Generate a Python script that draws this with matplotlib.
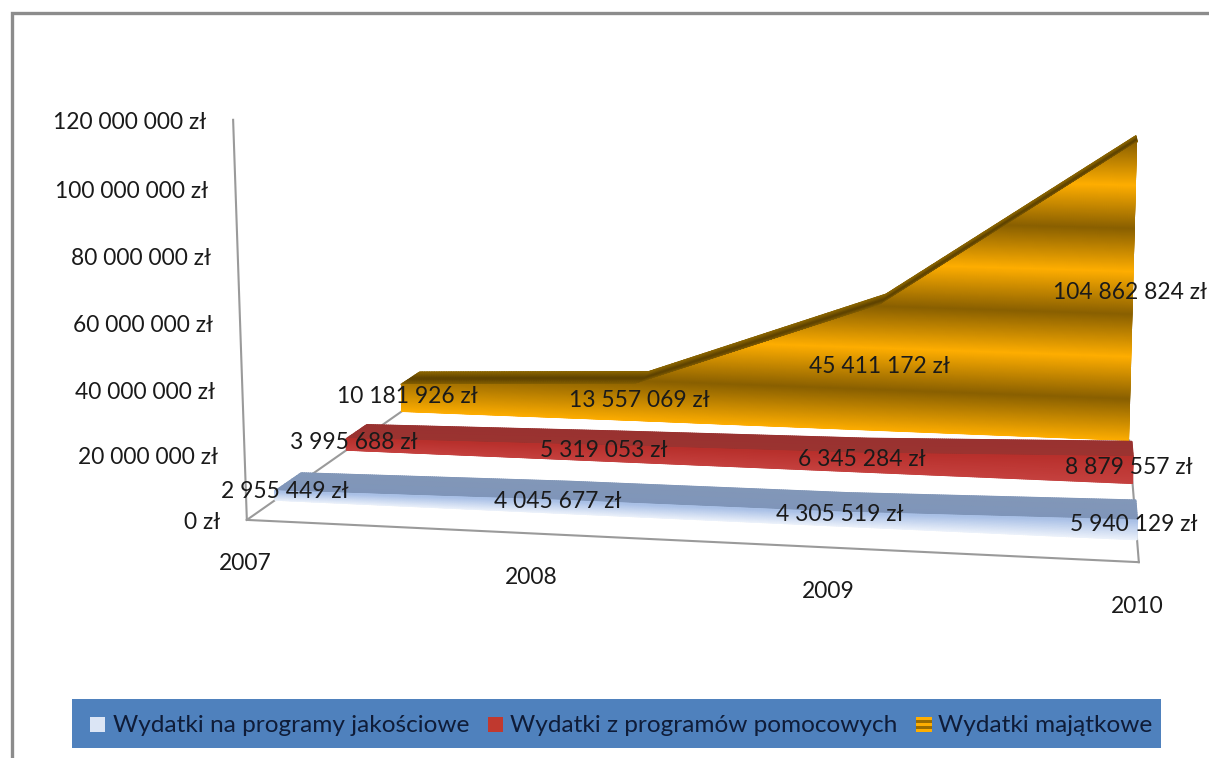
import numpy as np
import matplotlib
matplotlib.use('Agg')
import matplotlib.pyplot as plt
from matplotlib.colors import LinearSegmentedColormap
from matplotlib.patches import Polygon, Rectangle

plt.rcParams['font.family'] = ['Lato', 'DejaVu Sans']

years = ['2007', '2008', '2009', '2010']
y_ticks = [0, 20000000, 40000000, 60000000, 80000000, 100000000, 120000000]
names = ['Wydatki na programy jakościowe', 'Wydatki z programów pomocowych', 'Wydatki majątkowe']
jakosciowe = [2955449, 4045677, 4305519, 5940129]
pomocowe = [3995688, 5319053, 6345284, 8879557]
majatkowe = [10181926, 13557069, 45411172, 104862824]

# depth of each ribbon on the floor, front and back
depth_blue = (0.8, 1.6)
depth_red = (3.1, 3.85)
depth_gold = (5.2, 6.0)

# camera fit: (year index, depth, value in millions) -> pixel
corners = [(0, 0, 0, 248, 518), (3, 0, 0, 1139, 563), (0, 0, 120, 233, 120)]
calib = corners*3 + [
    (0, 0.8, 0, 273, 502), (3, 0.8, 0, 1138, 538),
    (0, 3.1, 0, 342, 453), (3, 3.1, 0, 1132, 486),
    (0, 5.2, 0, 401, 412), (3, 5.2, 0, 1128, 439),
    (3, 5.2, 104.86, 1137, 143), (3, 6.0, 104.86, 1137, 135),
    (0, 5.2, 10.18, 401, 385), (0, 6.0, 10.18, 421, 372),
    (2, 5.2, 45.41, 878, 303), (2, 6.0, 45.41, 886, 293),
    (1, 5.2, 13.56, 640, 384),
]
A = []
for t, d, v, px, py in calib:
    A.append([t, d, v, 1, 0, 0, 0, 0, -px*t, -px*d, -px*v, -px])
    A.append([0, 0, 0, 0, t, d, v, 1, -py*t, -py*d, -py*v, -py])
P = np.linalg.svd(np.array(A, dtype=float))[2][-1].reshape(3, 4)


def project(t, d, v):
    t, d, v = np.broadcast_arrays(np.asarray(t, float), np.asarray(d, float), np.asarray(v, float))
    w = P[2, 0]*t + P[2, 1]*d + P[2, 2]*v/1e6 + P[2, 3]
    x = (P[0, 0]*t + P[0, 1]*d + P[0, 2]*v/1e6 + P[0, 3]) / w
    y = (P[1, 0]*t + P[1, 1]*d + P[1, 2]*v/1e6 + P[1, 3]) / w
    return x, y


def shade(ax, T, D, V, C, cmap, clip=None):
    x, y = project(T, D, V)
    m = ax.pcolormesh(x, y, C, cmap=cmap, vmin=0, vmax=1, shading='gouraud', zorder=3)
    if clip is not None:
        m.set_clip_path(clip)


def money(v):
    return f'{v:,}'.replace(',', ' ') + ' zł'


def ribbon(ax, values, depth, front_cmap, top_cmap, banded=False):
    ts = np.arange(len(values))
    tt = np.linspace(0, 3, 400)
    vals = np.interp(tt, ts, values)
    # top face
    s = np.linspace(0, 1, 12)
    T, S = np.meshgrid(tt, s)
    D = depth[0] + S*(depth[1]-depth[0])
    V = np.tile(vals, (len(s), 1))
    shade(ax, T, D, V, S, top_cmap)
    # front face
    if banded:
        levels = np.linspace(0, 120e6, 700)
        T, V = np.meshgrid(tt, levels)
        C = (V % 30e6) / 30e6
        xt, yt = project(ts, depth[0], values)
        xb, yb = project(ts[::-1], depth[0], 0)
        poly = Polygon(np.column_stack([np.r_[xt, xb], np.r_[yt, yb]]), closed=True,
                       fc='none', ec='none', transform=ax.transData)
        ax.add_patch(poly)
        shade(ax, T, np.full_like(T, depth[0]), V, C, front_cmap, clip=poly)
    else:
        s = np.linspace(0, 1, 30)
        T, S = np.meshgrid(tt, s)
        shade(ax, T, np.full_like(T, depth[0]), S*np.tile(vals, (len(s), 1)), S, front_cmap)


fig = plt.figure(figsize=(12.09, 7.58), dpi=100)
ax = fig.add_axes([0, 0, 1, 1])
ax.set_xlim(0, 1209)
ax.set_ylim(758, 0)
ax.axis('off')

# frame of the slide
ax.plot([11.5, 11.5, 1209], [758, 12.5, 12.5], color='#8c8c8c', lw=2.4, solid_joinstyle='miter')

# floor and axis
grey = '#9a9a9a'
for a, b in [((0, 0, 0), (3, 0, 0)), ((0, 0, 0), (0, 0, 120e6)), ((0, 0, 0), (0, 5.2, 0)), ((3, 0, 0), (3, 5.2, 0))]:
    x0, y0 = project(*a)
    x1, y1 = project(*b)
    ax.plot([x0, x1], [y0, y1], color=grey, lw=1.5, zorder=2)

gold_band = LinearSegmentedColormap.from_list('gold', ['#ffae00', '#8a6000', '#ffae00'])
gold_top = LinearSegmentedColormap.from_list('goldtop', ['#8c6500', '#5c4100', '#8a6400'])
red_front = LinearSegmentedColormap.from_list('redf', ['#c5413f', '#b8302c'])
red_top = LinearSegmentedColormap.from_list('redt', ['#9b3330', '#993230'])
blue_front = LinearSegmentedColormap.from_list('bluef', ['#eef3fb', '#a9c0e6'])
blue_top = LinearSegmentedColormap.from_list('bluet', ['#7f95b9', '#8297b8'])

ribbon(ax, majatkowe, depth_gold, gold_band, gold_top, banded=True)
ribbon(ax, pomocowe, depth_red, red_front, red_top)
ribbon(ax, jakosciowe, depth_blue, blue_front, blue_top)

txt = '#1a1a1a'
fs = 16.4
for v in y_ticks:
    x, y = project(0, 0, v)
    ax.text(x-27, y+3, money(v), ha='right', va='center', fontsize=fs, color=txt, zorder=5)
for i, lab in enumerate(years):
    x, y = project(i, 0, 0)
    ax.text(x-2, y+44, lab, ha='center', va='center', fontsize=fs, color=txt, zorder=5)
for values, depth in [(majatkowe, depth_gold), (pomocowe, depth_red), (jakosciowe, depth_blue)]:
    for i, v in enumerate(values):
        x, y = project(i, (depth[0]+depth[1])/2, v/2)
        ax.text(x-3, y+5, money(v), ha='center', va='center', fontsize=fs, color=txt, zorder=5)

# legend bar
ax.add_patch(Rectangle((72, 699), 1089, 49, fc='#4f81bd', ec='none', zorder=4))
leg_txt = '#0f1c38'
ax.text(113, 725, names[0], ha='left', va='center', fontsize=17.6, color=leg_txt, zorder=5)
ax.text(510, 725, names[1], ha='left', va='center', fontsize=17.6, color=leg_txt, zorder=5)
ax.text(938, 725, names[2], ha='left', va='center', fontsize=17.6, color=leg_txt, zorder=5)
ax.add_patch(Rectangle((90, 717), 15, 15, fc='#dbe5f5', ec='none', zorder=5))
ax.add_patch(Rectangle((488, 717), 15, 15, fc='#c0392f', ec='none', zorder=5))
for k in range(5):
    ax.add_patch(Rectangle((916, 717+k*3), 16, 3, fc=['#ffae00', '#9a6c00'][k % 2], ec='none', zorder=5))

fig.savefig('out.png', dpi=100)
